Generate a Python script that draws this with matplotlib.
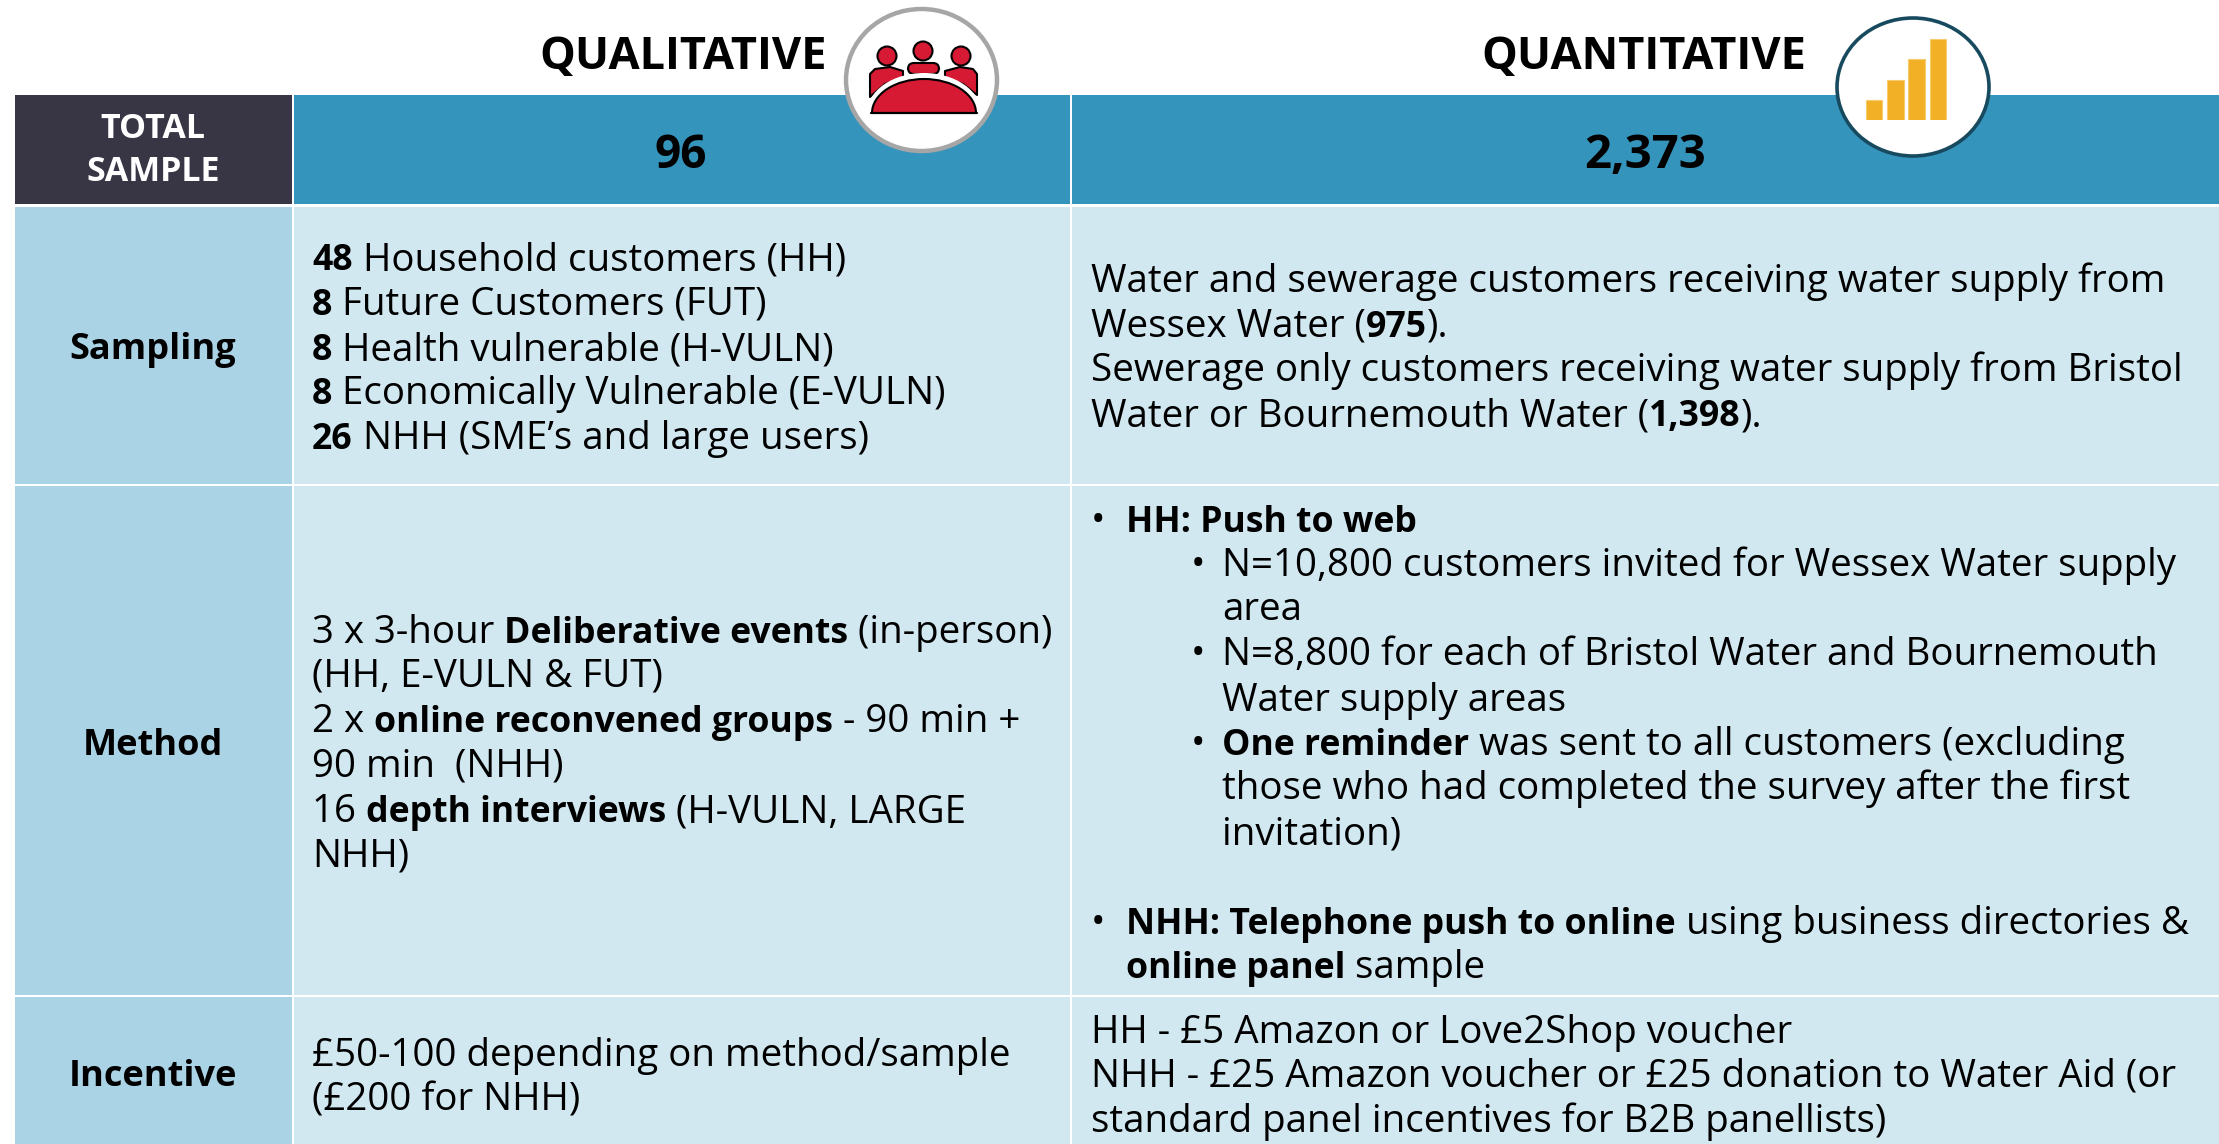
import matplotlib
matplotlib.use("Agg")
import matplotlib.pyplot as plt
from matplotlib.patches import Rectangle, Circle, Ellipse, Polygon, FancyBboxPatch

W, H = 2219, 1144
FONT = "Open Sans"
FS_REG = 27.7
FS_BOLD = 25.7

titles = ["QUALITATIVE", "QUANTITATIVE"]
row_labels = ["Sampling", "Method", "Incentive"]
totals = ["96", "2,373"]
icon_bars = [1, 2, 3, 4]

# (x px, y px, [(text, bold), ...])
qual_lines = [
    (312, 257, [("48", 1), (" Household customers (HH)", 0)]),
    (312, 302, [("8", 1), (" Future Customers (FUT)", 0)]),
    (312, 347, [("8", 1), (" Health vulnerable (H-VULN)", 0)]),
    (312, 391, [("8", 1), (" Economically Vulnerable (E-VULN)", 0)]),
    (312, 436, [("26", 1), (" NHH (SME\u2019s and large users)", 0)]),
    (312, 630, [("3 x 3-hour ", 0), ("Deliberative events", 1), (" (in-person)", 0)]),
    (312, 674, [("(HH, E-VULN & FUT)", 0)]),
    (312, 719, [("2 x ", 0), ("online reconvened groups", 1), (" - 90 min +", 0)]),
    (312, 764, [("90 min  (NHH)", 0)]),
    (312, 809, [("16 ", 0), ("depth interviews", 1), (" (H-VULN, LARGE", 0)]),
    (312, 854, [("NHH)", 0)]),
    (312, 1053, [("\u00a350-100 depending on method/sample", 0)]),
    (312, 1098, [("(\u00a3200 for NHH)", 0)]),
]
quant_lines = [
    (1091, 279, [("Water and sewerage customers receiving water supply from", 0)]),
    (1091, 324, [("Wessex Water (", 0), ("975", 1), (").", 0)]),
    (1091, 368, [("Sewerage only customers receiving water supply from Bristol", 0)]),
    (1091, 413, [("Water or Bournemouth Water (", 0), ("1,398", 1), (").", 0)]),
    (1091, 519, [("\u2022", 0)]),
    (1126, 519, [("HH: Push to web", 1)]),
    (1191, 563, [("\u2022", 0)]),
    (1222, 563, [("N=10,800 customers invited for Wessex Water supply", 0)]),
    (1222, 607, [("area", 0)]),
    (1191, 652, [("\u2022", 0)]),
    (1222, 652, [("N=8,800 for each of Bristol Water and Bournemouth", 0)]),
    (1222, 698, [("Water supply areas", 0)]),
    (1191, 742, [("\u2022", 0)]),
    (1222, 742, [("One reminder", 1), (" was sent to all customers (excluding", 0)]),
    (1222, 786, [("those who had completed the survey after the first", 0)]),
    (1222, 831, [("invitation)", 0)]),
    (1091, 921, [("\u2022", 0)]),
    (1126, 921, [("NHH: Telephone push to online", 1), (" using business directories &", 0)]),
    (1126, 965, [("online panel", 1), (" sample", 0)]),
    (1091, 1030, [("HH - \u00a35 Amazon or Love2Shop voucher", 0)]),
    (1091, 1074, [("NHH - \u00a325 Amazon voucher or \u00a325 donation to Water Aid (or", 0)]),
    (1091, 1119, [("standard panel incentives for B2B panellists)", 0)]),
]

fig = plt.figure(figsize=(W / 100, H / 100), dpi=100, facecolor="white")
ax = fig.add_axes([0, 0, 1, 1])
ax.set_xlim(0, W)
ax.set_ylim(H, 0)
ax.axis("off")

def cell(x0, x1, y0, y1, c):
    ax.add_patch(Rectangle((x0, y0), x1 - x0, y1 - y0, fc=c, ec="none", zorder=1))

cols = [(15, 292), (294, 1070), (1072, 2219)]
rows = [(207, 484), (486, 995), (997, 1144)]
cell(*cols[0], 95, 204, "#383545")
cell(*cols[1], 95, 204, "#3594bc")
cell(*cols[2], 95, 204, "#3594bc")
for r in rows:
    cell(*cols[0], *r, "#aad3e6")
    cell(*cols[1], *r, "#d2e8f1")
    cell(*cols[2], *r, "#d2e8f1")

rend = fig.canvas.get_renderer()
BASE_SHIFT = 13  # px from line centre to baseline
def rich(x, y, runs, color="black"):
    for s, b in runs:
        t = ax.text(x, y + BASE_SHIFT, s.replace(" ", "\u00a0"), fontsize=FS_BOLD if b else FS_REG, family=FONT,
                    weight="bold" if b else "normal", color=color, va="baseline", ha="left", zorder=5)
        x = t.get_window_extent(rend).x1

for x, y, runs in qual_lines + quant_lines:
    rich(x, y, runs)

ax.text(153, 129, "TOTAL", color="white", fontsize=24.5, family=FONT, weight="bold", ha="center", va="center", zorder=5)
ax.text(153, 172, "SAMPLE", color="white", fontsize=24.5, family=FONT, weight="bold", ha="center", va="center", zorder=5)
for lab, r in zip(row_labels, [350, 746, 1077]):
    ax.text(153, r, lab, fontsize=26, family=FONT, weight="bold", ha="center", va="center", zorder=5)
ax.text(681, 155, totals[0], fontsize=33, family=FONT, weight="bold", ha="center", va="center", zorder=5)
ax.text(1645, 155, totals[1], fontsize=34, family=FONT, weight="bold", ha="center", va="center", zorder=5)
ax.text(683, 58, titles[0], fontsize=32.5, family=FONT, weight="bold", ha="center", va="center", zorder=5)
ax.text(1644, 58, titles[1], fontsize=32.5, family=FONT, weight="bold", ha="center", va="center", zorder=5)

# qualitative icon
RED = "#d71a33"
ax.add_patch(Ellipse((921.5, 80), 151, 142, fc="white", ec="#a6a6a6", lw=3.2, zorder=6))
kw = dict(fc=RED, ec="black", lw=1.5, zorder=7)
for cx, cy in [(887, 56), (923, 51), (961, 56)]:
    ax.add_patch(Circle((cx, cy), 9.5, **kw))
ax.add_patch(FancyBboxPatch((908, 63), 31, 11, boxstyle="round,pad=0,rounding_size=6", **kw))
ax.add_patch(Polygon([(870, 97), (870, 74), (875, 69), (890, 67), (903, 71), (903, 78), (885, 84)], closed=True, joinstyle="round", **kw))
ax.add_patch(Polygon([(977, 95), (977, 74), (973, 69), (960, 67), (945, 71), (945, 78), (963, 84)], closed=True, joinstyle="round", **kw))
clip = Rectangle((860, 60), 130, 53, transform=ax.transData)
halo = Ellipse((924, 113), 114, 80, fc="white", ec="none", zorder=8)
dome = Ellipse((924, 113), 104, 68, fc=RED, ec="black", lw=1.5, zorder=9)
for p in (halo, dome):
    ax.add_patch(p)
    p.set_clip_path(clip)
ax.plot([871, 977], [113, 113], color="black", lw=1.6, zorder=10, solid_capstyle="round")

# quantitative icon
ax.add_patch(Ellipse((1913, 87), 152, 138, fc="white", ec="#174a5f", lw=2.6, zorder=6))
iax = fig.add_axes([1863.5 / W, 1 - 120 / H, 85 / W, 82 / H], zorder=10)
iax.bar(range(4), icon_bars, width=0.78, color="#f2b027", edgecolor="#f7cb6e", linewidth=0.8)
iax.set_xlim(-0.5, 3.5)
iax.set_ylim(0, 4.05)
iax.axis("off")
iax.patch.set_alpha(0)

fig.savefig("out.png", dpi=100, facecolor="white")
